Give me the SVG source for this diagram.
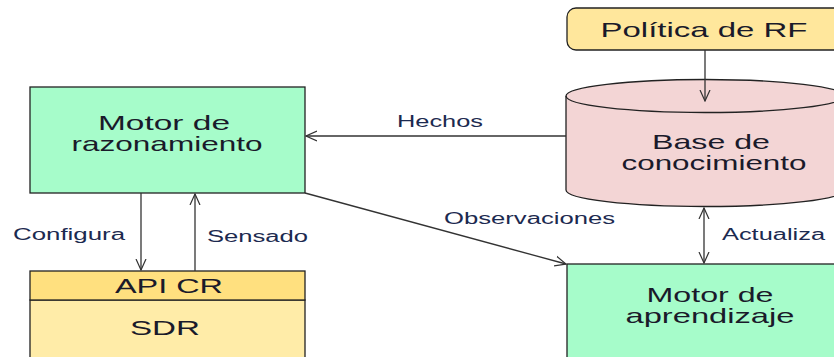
<svg xmlns="http://www.w3.org/2000/svg" width="834" height="357" viewBox="0 0 834 357">
<defs>
<style>
.box{stroke:#222;stroke-width:1.3}
.green{fill:#a6fcca}
.t{font-family:"Liberation Sans",Arial,sans-serif;font-size:21px;fill:#1a1a2a;text-anchor:middle}
.l{font-family:"Liberation Sans",Arial,sans-serif;font-size:16px;fill:#1c2a50}
.c{stroke:#333;stroke-width:1.3;fill:none}
</style>
<marker id="v" viewBox="0 0 12 12" refX="11" refY="6" markerWidth="12" markerHeight="12" markerUnits="userSpaceOnUse" orient="auto-start-reverse">
<path d="M0,1 L11,6 L0,11" fill="none" stroke="#333" stroke-width="1.2"/>
</marker>
</defs>
<rect width="834" height="357" fill="#fff"/>
<g id="politica">
<rect class="box" x="567" y="8" width="290" height="42" rx="9" fill="#ffe79c"/>
<text class="t" x="704" y="37" textLength="207" lengthAdjust="spacingAndGlyphs">Política de RF</text>
</g>
<g id="base">
<path class="box" d="M566,96 L566,190 A139,16.5 0 0 0 844,190 L844,96 A139,16.5 0 0 0 566,96 Z" fill="#f3d5d5"/>
<path class="box" d="M566,96 A139,16.5 0 0 0 844,96" fill="none"/>
<text class="t" x="711" y="149" textLength="118" lengthAdjust="spacingAndGlyphs">Base de</text>
<text class="t" x="714" y="170" textLength="185" lengthAdjust="spacingAndGlyphs">conocimiento</text>
</g>
<g id="razonamiento">
<rect class="box green" x="30" y="87" width="275" height="106"/>
<text class="t" x="164" y="130" textLength="132" lengthAdjust="spacingAndGlyphs">Motor de</text>
<text class="t" x="167" y="151" textLength="191" lengthAdjust="spacingAndGlyphs">razonamiento</text>
</g>
<g id="sdr">
<rect class="box" x="30" y="300" width="275" height="70" fill="#ffeca8"/>
<rect class="box" x="30" y="271" width="275" height="29" fill="#ffe07f"/>
<text class="t" x="169" y="293" textLength="108" lengthAdjust="spacingAndGlyphs">API CR</text>
<text class="t" x="165" y="335" textLength="70" lengthAdjust="spacingAndGlyphs">SDR</text>
</g>
<g id="aprendizaje">
<rect class="box green" x="567" y="264" width="290" height="110"/>
<text class="t" x="710" y="302" textLength="127" lengthAdjust="spacingAndGlyphs">Motor de</text>
<text class="t" x="710" y="323" textLength="169" lengthAdjust="spacingAndGlyphs">aprendizaje</text>
</g>
<g id="connectors">
<line class="c" x1="705" y1="50" x2="705" y2="101" marker-end="url(#v)"/>
<line class="c" x1="566" y1="136" x2="306" y2="136" marker-end="url(#v)"/>
<line class="c" x1="305" y1="193" x2="566" y2="264" marker-end="url(#v)"/>
<line class="c" x1="704" y1="208" x2="704" y2="263" marker-start="url(#v)" marker-end="url(#v)" stroke-width="2"/>
<line class="c" x1="141" y1="193" x2="141" y2="270" marker-end="url(#v)"/>
<line class="c" x1="195" y1="271" x2="195" y2="194" marker-end="url(#v)" stroke-width="2"/>
<text class="l" x="397" y="127" textLength="86" lengthAdjust="spacingAndGlyphs">Hechos</text>
<text class="l" x="444" y="224" textLength="171" lengthAdjust="spacingAndGlyphs">Observaciones</text>
<text class="l" x="722" y="240" textLength="103" lengthAdjust="spacingAndGlyphs">Actualiza</text>
<text class="l" x="13" y="240" textLength="112" lengthAdjust="spacingAndGlyphs">Configura</text>
<text class="l" x="207" y="242" textLength="101" lengthAdjust="spacingAndGlyphs">Sensado</text>
</g>
</svg>
